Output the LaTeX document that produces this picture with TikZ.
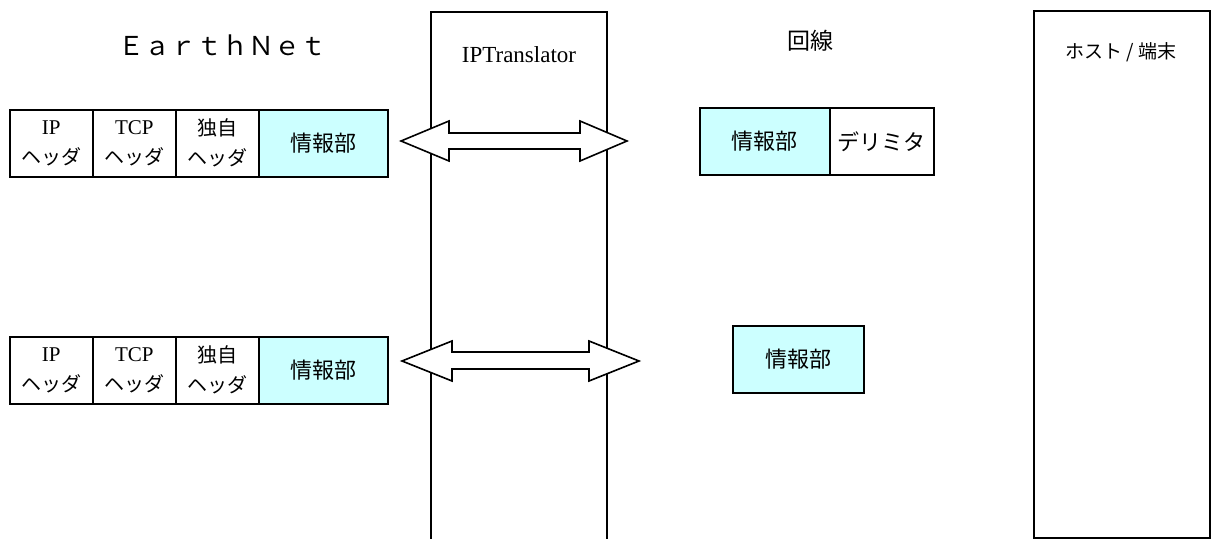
\documentclass[tikz,border=0pt]{standalone}
\usepackage{fontspec}
\setmainfont{Liberation Serif}
\newfontfamily\jp{Noto Sans CJK JP}
\definecolor{lcyan}{RGB}{204,255,255}
\begin{document}
\begin{tikzpicture}[x=1pt,y=-1pt,
  line width=1.6pt,
  cell/.style={draw=black, line width=1.6pt, fill=white, minimum height=67pt, inner sep=0pt, anchor=north west, align=center, font=\fontsize{21}{30}\selectfont},
  info/.style={cell, fill=lcyan, font=\jp\fontsize{22}{24}\selectfont},
  dbl/.style={draw=black, fill=white, line width=1.6pt, line join=miter},
  lbl/.style={inner sep=0pt}
]
\useasboundingbox (0,0) rectangle (1212,538);
\clip (0,0) rectangle (1212,538);

% titles
\node[lbl, font=\jp\fontsize{26}{26}\selectfont] (earth) at (222,45) {ＥａｒｔｈＮｅｔ};
\node[lbl, font=\jp\fontsize{23}{23}\selectfont] (kaisen) at (810,41) {回線};

% IPTranslator column
\draw (431,560) -- (431,12) -- (607,12) -- (607,560);
\node[lbl, font=\fontsize{23}{23}\selectfont] (ipt) at (519,55) {IPTranslator};

% host column
\node[draw=black, minimum width=176pt, minimum height=527pt, anchor=north west, inner sep=0pt] (host) at (1033,10) {};
\node[lbl, font=\jp\fontsize{19}{19}\selectfont] (hostlbl) at (1121,52) {ホスト / 端末};

% EarthNet rows
\foreach \r/\y in {a/109, b/336}{
  \node[cell, minimum width=83pt] (ip\r) at (9,\y) {IP\\{\jp\fontsize{20}{30}\selectfont ヘッダ}};
  \node[cell, minimum width=83pt] (tcp\r) at (92,\y) {TCP\\{\jp\fontsize{20}{30}\selectfont ヘッダ}};
  \node[cell, minimum width=83pt, font=\jp\fontsize{20}{30}\selectfont] (own\r) at (175,\y) {独自\\ヘッダ};
  \node[info, minimum width=129pt] (inf\r) at (258,\y) {情報部};
}

% line side
\node[info, minimum width=130pt, minimum height=67pt] (linfa) at (699,107) {情報部};
\node[cell, minimum width=104pt, font=\jp\fontsize{22}{24}\selectfont] (delim) at (829,107) {デリミタ};
\node[info, minimum width=131pt, minimum height=67pt] (linfb) at (732,325) {情報部};

% double arrows
\draw[dbl] (401,141) -- (449,121) -- (449,133) -- (580,133) -- (580,121) -- (627,141)
  -- (580,161) -- (580,149) -- (449,149) -- (449,161) -- cycle;
\draw[dbl] (402,361) -- (452,341) -- (452,352) -- (589,352) -- (589,341) -- (639,361)
  -- (589,381) -- (589,369) -- (452,369) -- (452,381) -- cycle;
\end{tikzpicture}
\end{document}
